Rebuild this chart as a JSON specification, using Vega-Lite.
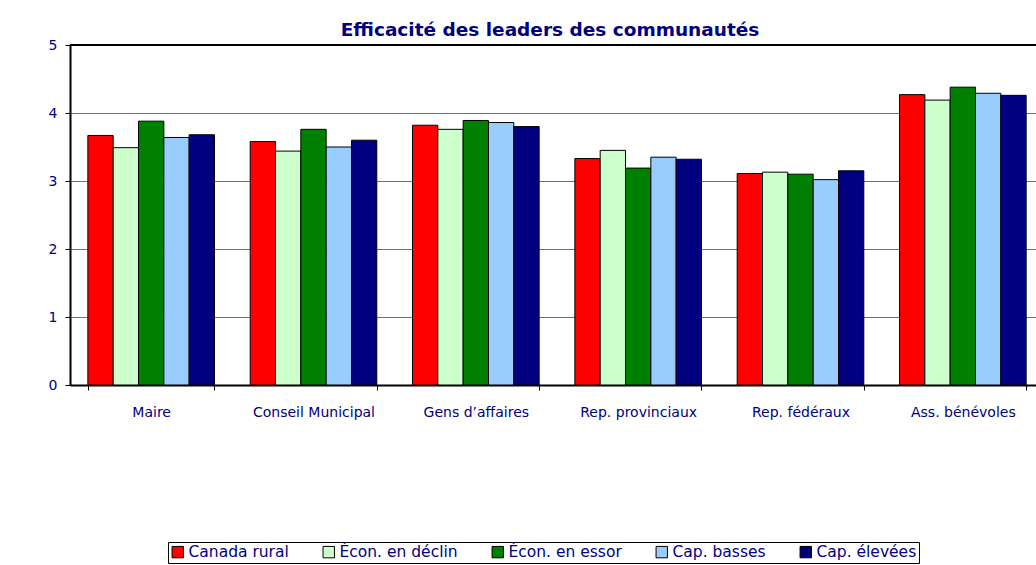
{
  "$schema": "https://vega.github.io/schema/vega-lite/v6.json",
  "width": 966,
  "height": 340,
  "autosize": {"type": "none"},
  "padding": {"left": 70, "top": 45, "right": 0, "bottom": 180},
  "background": "white",
  "title": {
    "text": "Efficacité des leaders des communautés",
    "font": "DejaVu Sans",
    "fontSize": 18.5,
    "fontWeight": "bold",
    "color": "#000080",
    "anchor": "middle",
    "baseline": "alphabetic",
    "offset": 7,
    "dy": 23,
    "dx": -3
  },
  "data": {
    "values": [
      {"leader": "Maire", "groupe": "Canada rural", "valeur": 3.67},
      {"leader": "Maire", "groupe": "Écon. en déclin", "valeur": 3.49},
      {"leader": "Maire", "groupe": "Écon. en essor", "valeur": 3.88},
      {"leader": "Maire", "groupe": "Cap. basses", "valeur": 3.64},
      {"leader": "Maire", "groupe": "Cap. élevées", "valeur": 3.68},
      {"leader": "Conseil Municipal", "groupe": "Canada rural", "valeur": 3.58},
      {"leader": "Conseil Municipal", "groupe": "Écon. en déclin", "valeur": 3.44},
      {"leader": "Conseil Municipal", "groupe": "Écon. en essor", "valeur": 3.76},
      {"leader": "Conseil Municipal", "groupe": "Cap. basses", "valeur": 3.50},
      {"leader": "Conseil Municipal", "groupe": "Cap. élevées", "valeur": 3.60},
      {"leader": "Gens d’affaires", "groupe": "Canada rural", "valeur": 3.82},
      {"leader": "Gens d’affaires", "groupe": "Écon. en déclin", "valeur": 3.76},
      {"leader": "Gens d’affaires", "groupe": "Écon. en essor", "valeur": 3.89},
      {"leader": "Gens d’affaires", "groupe": "Cap. basses", "valeur": 3.86},
      {"leader": "Gens d’affaires", "groupe": "Cap. élevées", "valeur": 3.80},
      {"leader": "Rep. provinciaux", "groupe": "Canada rural", "valeur": 3.33},
      {"leader": "Rep. provinciaux", "groupe": "Écon. en déclin", "valeur": 3.45},
      {"leader": "Rep. provinciaux", "groupe": "Écon. en essor", "valeur": 3.19},
      {"leader": "Rep. provinciaux", "groupe": "Cap. basses", "valeur": 3.35},
      {"leader": "Rep. provinciaux", "groupe": "Cap. élevées", "valeur": 3.32},
      {"leader": "Rep. fédéraux", "groupe": "Canada rural", "valeur": 3.11},
      {"leader": "Rep. fédéraux", "groupe": "Écon. en déclin", "valeur": 3.13},
      {"leader": "Rep. fédéraux", "groupe": "Écon. en essor", "valeur": 3.10},
      {"leader": "Rep. fédéraux", "groupe": "Cap. basses", "valeur": 3.02},
      {"leader": "Rep. fédéraux", "groupe": "Cap. élevées", "valeur": 3.15},
      {"leader": "Ass. bénévoles", "groupe": "Canada rural", "valeur": 4.27},
      {"leader": "Ass. bénévoles", "groupe": "Écon. en déclin", "valeur": 4.19},
      {"leader": "Ass. bénévoles", "groupe": "Écon. en essor", "valeur": 4.38},
      {"leader": "Ass. bénévoles", "groupe": "Cap. basses", "valeur": 4.29},
      {"leader": "Ass. bénévoles", "groupe": "Cap. élevées", "valeur": 4.26}
    ]
  },
  "layer": [
    {
      "mark": {"type": "bar", "stroke": "black", "strokeWidth": 1},
      "encoding": {
        "x": {
          "field": "leader",
          "type": "nominal",
          "sort": ["Maire", "Conseil Municipal", "Gens d’affaires", "Rep. provinciaux", "Rep. fédéraux", "Ass. bénévoles"],
          "scale": {"range": [0, 974], "paddingInner": 0.22, "paddingOuter": 0.11},
          "axis": {
            "title": null,
            "labelAngle": 0,
            "labelFont": "DejaVu Sans",
            "labelFontSize": 14,
            "labelColor": "#000080",
            "labelPadding": 15,
            "domainColor": "black",
            "domainWidth": 2,
            "tickColor": "black",
            "tickWidth": 1,
            "tickSize": 5,
            "tickBand": "extent",
            "grid": false
          }
        },
        "xOffset": {
          "field": "groupe",
          "type": "nominal",
          "sort": ["Canada rural", "Écon. en déclin", "Écon. en essor", "Cap. basses", "Cap. élevées"],
          "scale": {"paddingInner": 0, "paddingOuter": 0}
        },
        "y": {
          "field": "valeur",
          "type": "quantitative",
          "scale": {"domain": [0, 5], "nice": false},
          "axis": {
            "title": null,
            "values": [0, 1, 2, 3, 4, 5],
            "format": "d",
            "labelFont": "DejaVu Sans",
            "labelFontSize": 14,
            "labelColor": "#000080",
            "labelPadding": 8,
            "domainColor": "black",
            "domainWidth": 2,
            "tickColor": "black",
            "tickSize": 5,
            "grid": true,
            "gridColor": "#707070",
            "gridWidth": 1
          }
        },
        "color": {
          "field": "groupe",
          "type": "nominal",
          "scale": {
            "domain": ["Canada rural", "Écon. en déclin", "Écon. en essor", "Cap. basses", "Cap. élevées"],
            "range": ["#FF0000", "#CCFFCC", "#008000", "#99CCFF", "#000080"]
          },
          "legend": {
            "title": null,
            "orient": "none",
            "legendX": 98,
            "legendY": 497,
            "direction": "horizontal",
            "strokeColor": "black",
            "padding": 2,
            "symbolType": "square",
            "symbolSize": 130,
            "symbolStrokeColor": "black",
            "symbolStrokeWidth": 1,
            "symbolOpacity": 1,
            "labelFont": "DejaVu Sans",
            "labelFontSize": 15.5,
            "labelColor": "#000080",
            "labelOffset": 3,
            "columnPadding": 32
          }
        }
      }
    },
    {
      "data": {"values": [{"top": 5}]},
      "mark": {"type": "rule", "color": "black", "strokeWidth": 2},
      "encoding": {"y": {"field": "top", "type": "quantitative"}}
    }
  ],
  "config": {
    "view": {"stroke": null},
    "font": "DejaVu Sans"
  }
}
